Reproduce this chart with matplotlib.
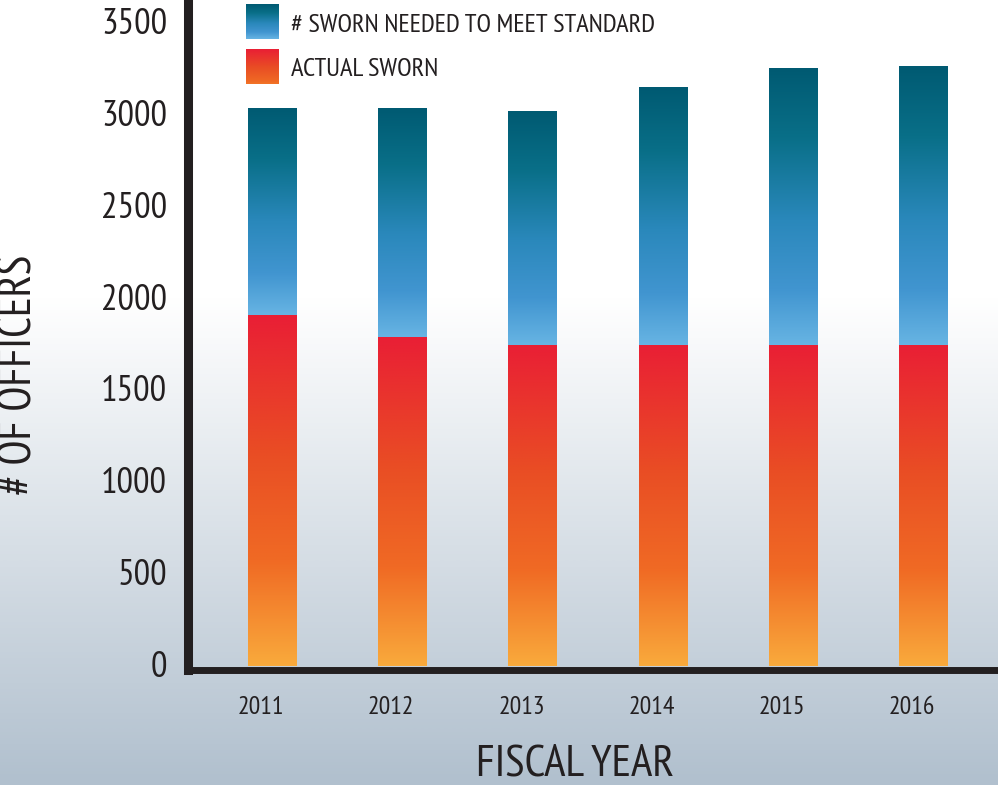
import numpy as np
import matplotlib
matplotlib.use("Agg")
import matplotlib.pyplot as plt
from matplotlib.colors import LinearSegmentedColormap
from matplotlib.transforms import ScaledTranslation

# Sworn officer staffing by fiscal year
years = ["2011", "2012", "2013", "2014", "2015", "2016"]
needed = [3040, 3040, 3020, 3150, 3255, 3265]
actual = [1910, 1790, 1750, 1750, 1750, 1750]
y_ticks = [0, 500, 1000, 1500, 2000, 2500, 3000, 3500]
legend_labels = ["# SWORN NEEDED TO MEET STANDARD", "ACTUAL SWORN"]

INK = "#231f20"
FONT = ["PT Sans Narrow", "DejaVu Sans"]
plt.rcParams["font.family"] = FONT
plt.rcParams["font.weight"] = "normal"

blue_cmap = LinearSegmentedColormap.from_list(
    "needed", [(0, "#67b4e3"), (0.2, "#4195d0"), (0.45, "#2a88bb"),
               (0.75, "#096f88"), (1, "#005a72")])
red_cmap = LinearSegmentedColormap.from_list(
    "actual", [(0, "#f9aa3c"), (0.3, "#f06a24"), (0.6, "#e94e24"),
               (1, "#e91f35")])
bg_cmap = LinearSegmentedColormap.from_list(
    "bg", [(0, "#b1c0ce"), (0.62, "#ffffff"), (1, "#ffffff")])

W, H = 998, 785
fig = plt.figure(figsize=(W / 100, H / 100), dpi=100)

# page background: white fading to slate at the bottom
bg = fig.add_axes([0, 0, 1, 1], zorder=-10)
bg.imshow(np.linspace(0, 1, 256).reshape(-1, 1), cmap=bg_cmap, origin="lower",
          aspect="auto", extent=[0, 1, 0, 1], interpolation="bilinear")
bg.set_axis_off()

ax = fig.add_axes([188 / W, (H - 669.5) / H, (W - 188) / W, (669.5 - 3) / H])
ax.set_facecolor("none")

x = np.arange(len(years))
width = 0.37
gap = np.subtract(needed, actual)
needed_bars = ax.bar(x, gap, bottom=actual, width=width, color="none", linewidth=0)
actual_bars = ax.bar(x, actual, width=width, color="none", linewidth=0)

grad = np.linspace(0, 1, 256).reshape(-1, 1)
for bars, cmap in ((needed_bars, blue_cmap), (actual_bars, red_cmap)):
    for bar in bars:
        x0, y0 = bar.get_x(), bar.get_y()
        im = ax.imshow(grad, cmap=cmap, origin="lower", aspect="auto",
                       extent=[x0, x0 + bar.get_width(), y0, y0 + bar.get_height()],
                       interpolation="bilinear", zorder=2)
        im.set_clip_path(bar)

ax.set_xlim(-0.645, 5.576)
ax.set_ylim(-19, 3609)

ax.set_xticks(x, years)
ax.set_yticks(y_ticks)
ax.tick_params(axis="x", length=0, pad=19, labelsize=18.5, labelcolor=INK)
ax.tick_params(axis="y", length=0, pad=15, labelsize=26.5, labelcolor=INK)

shift_x = ScaledTranslation(-11 / 100, 0, fig.dpi_scale_trans)
for lab in ax.get_xticklabels():
    lab.set_transform(lab.get_transform() + shift_x)
shift_y = ScaledTranslation(0, 2 / 100, fig.dpi_scale_trans)
for lab in ax.get_yticklabels():
    lab.set_transform(lab.get_transform() + shift_y)

for side in ("top", "right"):
    ax.spines[side].set_visible(False)
ax.spines["left"].set_linewidth(6.5)
ax.spines["left"].set_color(INK)
ax.spines["bottom"].set_linewidth(5)
ax.spines["bottom"].set_color(INK)
ax.spines["bottom"].set_capstyle("projecting")

fig.text(575 / W, 1 - 765 / H, "FISCAL YEAR", fontsize=32.5, color=INK,
         ha="center", va="center")
fig.text(20 / W, 1 - 375 / H, "# OF OFFICERS", fontsize=33, color=INK,
         ha="center", va="center", rotation=90)

# legend swatches with the same gradients as the bars
swatches = [(blue_cmap, 4, np.linspace(0, 1, 256)),
            (red_cmap, 49, np.linspace(0.25, 1, 256))]
for (cmap, top, vals), label in zip(swatches, legend_labels):
    sax = fig.add_axes([246 / W, (H - top - 35) / H, 33 / W, 35 / H])
    sax.imshow(vals.reshape(-1, 1), cmap=cmap, vmin=0, vmax=1, origin="lower",
               aspect="auto", interpolation="bilinear")
    sax.set_axis_off()
    fig.text(291 / W, 1 - (top + 21) / H, label, fontsize=19, color=INK,
             ha="left", va="center")

fig.savefig("out.png", dpi=100)
